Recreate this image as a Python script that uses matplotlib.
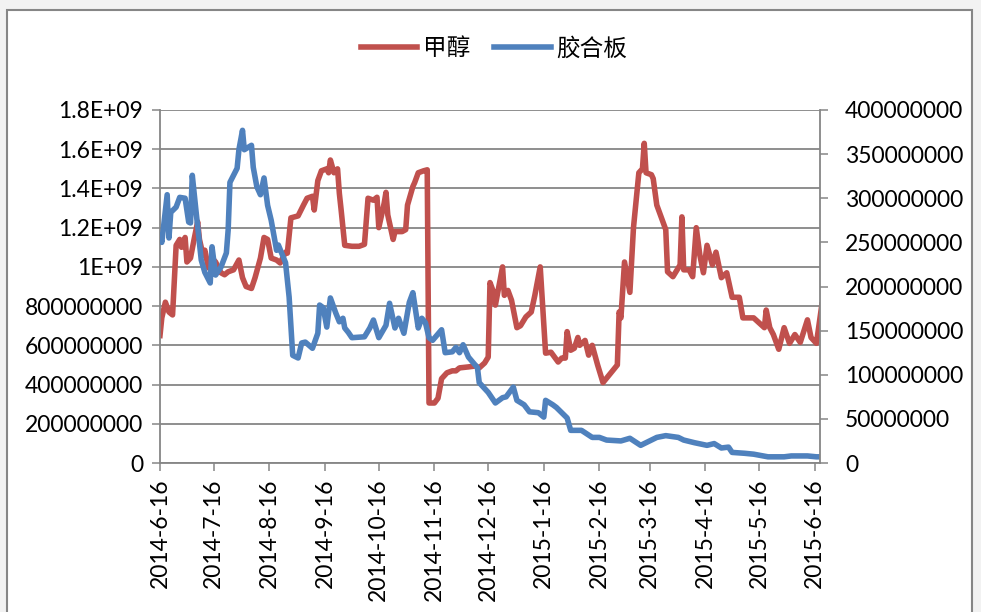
import matplotlib
matplotlib.use("Agg")
import matplotlib.pyplot as plt
from matplotlib.patches import Rectangle
import pandas as pd

plt.rcParams['font.family'] = ['Lato', 'Noto Sans CJK SC', 'DejaVu Sans']

start = pd.Timestamp('2014-06-16')
end = pd.Timestamp('2015-06-19')

# 甲醇 (left axis), days after 2014-6-16 and values (E+09)
meth_day = [0, 1, 3, 5, 7, 9, 11, 12, 14, 15, 17, 19, 21, 22, 24, 25, 27, 29, 31, 34,
            36, 38, 41, 44, 46, 48, 51, 53, 56, 58, 60, 62, 65, 67, 70, 71, 73, 75, 77, 80,
            82, 85, 86, 88, 90, 93, 94, 95, 97, 99, 100, 101, 103, 107, 111, 114, 116, 119, 121, 122,
            125, 126, 127, 130, 131, 135, 137, 138, 141, 142, 144, 147, 149, 150, 153, 155, 157, 160, 163, 165,
            167, 172, 176, 178, 181, 183, 184, 186, 187, 191, 192, 194, 196, 199, 201, 204, 207, 209, 212, 215,
            218, 220, 222, 224, 226, 227, 229, 231, 233, 234, 237, 239, 241, 244, 247, 255, 256, 257, 259, 262,
            264, 267, 269, 270, 271, 274, 275, 277, 282, 283, 286, 289, 290, 291, 292, 295, 297, 299, 301, 303,
            305, 308, 310, 313, 316, 319, 323, 325, 331, 334, 337, 338, 340, 342, 345, 348, 351, 354, 357, 361,
            363, 366, 369]
meth_val = [0.65, 0.74, 0.82, 0.77, 0.755, 1.11, 1.14, 1.10, 1.15, 1.025, 1.045, 1.14, 1.23, 1.14, 1.06, 1.085, 0.995, 1.045, 1.025, 0.97,
            0.96, 0.975, 0.985, 1.035, 0.945, 0.90, 0.89, 0.945, 1.045, 1.15, 1.14, 1.045, 1.035, 1.02, 1.075, 1.07, 1.25, 1.255, 1.26, 1.315,
            1.35, 1.36, 1.29, 1.44, 1.49, 1.50, 1.48, 1.545, 1.48, 1.50, 1.375, 1.29, 1.11, 1.105, 1.105, 1.115, 1.35, 1.34, 1.355, 1.20,
            1.325, 1.38, 1.265, 1.14, 1.18, 1.18, 1.19, 1.315, 1.41, 1.43, 1.48, 1.49, 1.495, 0.306, 0.306, 0.33, 0.43, 0.46, 0.47, 0.47,
            0.485, 0.49, 0.495, 0.485, 0.51, 0.54, 0.92, 0.87, 0.805, 1.0, 0.855, 0.88, 0.83, 0.69, 0.70, 0.745, 0.77, 0.855, 1.0, 0.56,
            0.565, 0.54, 0.515, 0.535, 0.535, 0.67, 0.575, 0.585, 0.64, 0.60, 0.625, 0.55, 0.60, 0.50, 0.41, 0.50, 0.77, 0.74, 1.025, 0.87,
            1.20, 1.48, 1.50, 1.63, 1.48, 1.47, 1.45, 1.315, 1.19, 0.975, 0.95, 0.995, 1.01, 1.255, 0.985, 0.985, 0.95, 1.20, 1.06, 0.97,
            1.11, 1.01, 1.075, 0.945, 0.97, 0.845, 0.845, 0.74, 0.74, 0.715, 0.69, 0.78, 0.69, 0.655, 0.58, 0.69, 0.61, 0.655, 0.615, 0.73,
            0.64, 0.61, 0.805]

# 胶合板 (right axis), days after 2014-6-16 and values in millions
ply_day = [0, 1, 4, 5, 6, 9, 11, 14, 16, 17, 18, 20, 23, 25, 28, 29, 31, 34, 37, 38,
           39, 41, 43, 44, 46, 47, 51, 52, 54, 56, 58, 60, 62, 65, 66, 70, 72, 74, 77, 79,
           81, 85, 88, 89, 91, 93, 95, 98, 100, 102, 103, 105, 107, 114, 117, 119, 122, 126, 128, 131,
           133, 136, 139, 141, 144, 146, 148, 150, 152, 157, 159, 163, 165, 167, 169, 172, 177, 178, 183, 187,
           191, 193, 197, 199, 203, 206, 211, 214, 215, 219, 221, 224, 227, 229, 235, 241, 245, 249, 257, 262,
           268, 272, 277, 282, 289, 292, 298, 305, 309, 313, 317, 319, 326, 331, 339, 348, 352, 361, 366, 369]
ply_val = [258, 250, 304, 255, 284, 290, 301, 300, 273, 272, 326, 287, 230, 216, 204, 245, 213, 222, 238, 264,
           318, 326, 334, 355, 377, 355, 360, 335, 313, 304, 323, 292, 275, 241, 247, 227, 188, 122, 119, 136,
           137, 130, 147, 179, 176, 154, 187, 170, 160, 164, 153, 148, 142, 143, 153, 162, 142, 156, 181, 153,
           164, 147, 182, 193, 153, 164, 159, 142, 139, 151, 125, 126, 131, 125, 134, 120, 108, 91, 80, 68,
           74, 75, 86, 71, 66, 58, 57, 52, 71, 66, 63, 57, 51, 37, 37, 29, 29, 26, 25, 28,
           20, 24, 29, 31, 29, 26, 23, 20, 22, 17, 18, 12, 11, 10, 7, 7, 8, 8, 7, 7]

left_ticks = [0, 2e8, 4e8, 6e8, 8e8, 1e9, 1.2e9, 1.4e9, 1.6e9, 1.8e9]
left_labels = ['0', '200000000', '400000000', '600000000', '800000000',
               '1E+09', '1.2E+09', '1.4E+09', '1.6E+09', '1.8E+09']
right_ticks = [0, 5e7, 1e8, 1.5e8, 2e8, 2.5e8, 3e8, 3.5e8, 4e8]
right_labels = ['0', '50000000', '100000000', '150000000', '200000000',
                '250000000', '300000000', '350000000', '400000000']

red = '#C0504D'
blue = '#4F81BD'
gray = '#868686'

meth_x = start + pd.to_timedelta(meth_day, unit='D')
ply_x = start + pd.to_timedelta(ply_day, unit='D')
meth_y = [v * 1e9 for v in meth_val]
ply_y = [v * 1e6 for v in ply_val]

fig = plt.figure(figsize=(9.81, 6.12), dpi=100, facecolor='#F2F2F2')
fig.patches.append(Rectangle((7 / 981, -0.02), 965 / 981, 1.02 - 10 / 612,
                             transform=fig.transFigure, facecolor='white',
                             edgecolor=gray, linewidth=1.5, zorder=-5))

ax = fig.add_axes([160 / 981, 1 - 463 / 612, 660 / 981, 353 / 612])
ax.patch.set_alpha(0)
ax2 = ax.twinx()
ax2.patch.set_alpha(0)

l1, = ax.plot(meth_x, meth_y, color=red, lw=4.0, solid_joinstyle='round', label='甲醇')
l2, = ax2.plot(ply_x, ply_y, color=blue, lw=4.0, solid_joinstyle='round', label='胶合板')

ax.set_xlim(start, end)
ax.set_ylim(0, 1.8e9)
ax2.set_ylim(0, 4e8)

ax.set_yticks(left_ticks)
ax.set_yticklabels(left_labels)
ax2.set_yticks(right_ticks)
ax2.set_yticklabels(right_labels)

months = pd.date_range('2014-06-16', '2015-06-16', freq=pd.DateOffset(months=1))
ax.set_xticks(months)
ax.set_xticklabels([f'{d.year}-{d.month}-{d.day}' for d in months], rotation=90)

ax.yaxis.grid(True, color=gray, lw=1.3)
ax.set_axisbelow(True)

for a in (ax, ax2):
    a.spines['top'].set_visible(False)
    a.tick_params(colors='black', labelsize=16.5, direction='out', length=6, width=1.1, color=gray)
ax.spines['left'].set_color(gray)
ax.spines['bottom'].set_color(gray)
ax.spines['right'].set_visible(False)
ax2.spines['left'].set_visible(False)
ax2.spines['bottom'].set_visible(False)
ax2.spines['right'].set_color(gray)
for s in ('left', 'bottom'):
    ax.spines[s].set_linewidth(1.3)
ax2.spines['right'].set_linewidth(1.3)
ax.tick_params(axis='y', pad=6)
ax.tick_params(axis='x', pad=5)
ax2.tick_params(axis='y', pad=12)

fig.legend(handles=[l1, l2], loc='center', bbox_to_anchor=(494 / 981, 1 - 48 / 612),
           ncol=2, frameon=False, fontsize=17, handlelength=2.4, handletextpad=0.25,
           columnspacing=1.0)

fig.savefig('out.png', dpi=100, facecolor=fig.get_facecolor())
